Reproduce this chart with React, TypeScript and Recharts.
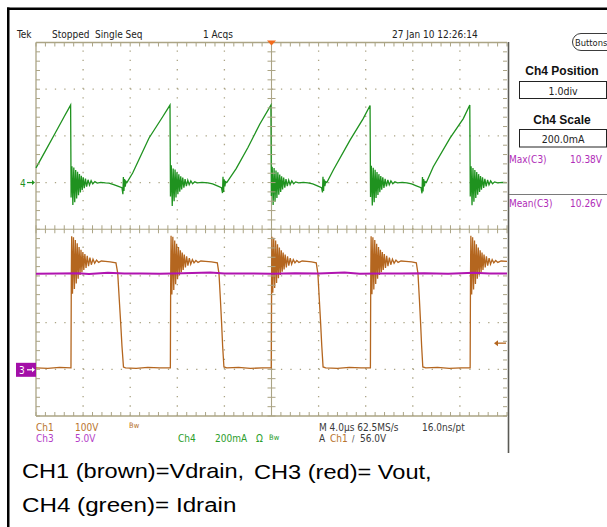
import React from 'react';
import { ComposedChart, Line, Scatter, XAxis, YAxis, ReferenceLine } from 'recharts';

type Pt = [number, number];

// time in µs (4 µs/div, 10 div); Ch4 current in mA, Ch1 / Ch3 in volts
const idrain: Pt[] = [
  [0, 63], [0.8, 136], [1.6, 209], [2.4, 283], [2.94, 332],
  [2.98, -64], [3.05, 70], [3.13, -96], [3.21, 64], [3.29, -84], [3.37, 54], [3.45, -68], [3.53, 46], [3.61, -54],
  [3.69, 37], [3.77, -42], [3.85, 29], [3.93, -32], [4.01, 23], [4.1, -24], [4.2, 17], [4.3, -17], [4.42, 12],
  [4.54, -11], [4.68, 8], [4.82, -6], [5.0, 4], [5.2, -2], [5.5, 1], [5.9, -1], [6.2, -2], [6.6, -9], [7.0, -16],
  [7.3, -22], [7.38, -50], [7.42, 24], [7.47, -36], [7.52, 15], [7.58, -18], [7.64, 5], [7.72, 0],
  [8.21, 41], [9.6, 191], [10.76, 282], [11.38, 332],
  [11.42, -60], [11.49, 74], [11.57, -100], [11.65, 60], [11.73, -80], [11.81, 56], [11.89, -64], [11.97, 44],
  [12.05, -50], [12.13, 35], [12.21, -39], [12.29, 27], [12.37, -30], [12.46, 21], [12.56, -22], [12.66, 15],
  [12.77, -15], [12.89, 10], [13.01, -9], [13.15, 7], [13.3, -5], [13.48, 3], [13.7, -1], [14.1, 1], [14.6, -1],
  [15.0, -6], [15.4, -14], [15.75, -22], [15.84, -45], [15.88, 25], [15.93, -40], [15.98, 14], [16.04, -16],
  [16.1, 4], [16.2, 0], [17.0, 60], [18.0, 150], [19.0, 250], [19.95, 332],
  [19.99, -58], [20.06, 68], [20.14, -96], [20.22, 62], [20.3, -82], [20.38, 52], [20.46, -66], [20.54, 44],
  [20.62, -52], [20.7, 34], [20.78, -40], [20.86, 27], [20.94, -30], [21.03, 21], [21.13, -22], [21.23, 15],
  [21.34, -15], [21.46, 10], [21.58, -9], [21.72, 7], [21.88, -5], [22.05, 3], [22.3, -1], [22.7, 1], [23.1, -1],
  [23.5, -6], [23.9, -14], [24.25, -22], [24.33, -42], [24.37, 25], [24.42, -36], [24.47, 14], [24.53, -15],
  [24.6, 4], [24.7, 0], [25.25, 54], [26.67, 182], [27.8, 275], [28.37, 330],
  [28.41, -62], [28.48, 72], [28.56, -98], [28.64, 63], [28.72, -84], [28.8, 55], [28.88, -66], [28.96, 45],
  [29.04, -53], [29.12, 36], [29.2, -41], [29.28, 28], [29.36, -31], [29.45, 22], [29.55, -23], [29.65, 16],
  [29.76, -16], [29.88, 11], [30.0, -10], [30.14, 7], [30.3, -5], [30.48, 3], [30.7, -1], [31.1, 1], [31.5, -1],
  [31.9, -6], [32.3, -14], [32.7, -22], [32.78, -46], [32.82, 24], [32.87, -38], [32.92, 15], [32.98, -16],
  [33.05, 4], [33.15, 0], [33.74, 68], [35.16, 190], [36.29, 274], [36.84, 332],
  [36.88, -60], [36.95, 70], [37.03, -97], [37.11, 62], [37.19, -82], [37.27, 54], [37.35, -66], [37.43, 45],
  [37.51, -52], [37.59, 36], [37.67, -40], [37.75, 28], [37.83, -31], [37.92, 22], [38.02, -23], [38.12, 16],
  [38.23, -16], [38.35, 11], [38.47, -10], [38.61, 7], [38.77, -5], [38.95, 3], [39.2, -1], [39.6, 1], [40, 0],
];

const vdrain: Pt[] = [
  [0, 3], [1.0, 2], [2.0, 4], [2.97, 3],
  [3.0, 200], [3.03, 285], [3.1, 162], [3.18, 283], [3.26, 172], [3.34, 277], [3.42, 184], [3.5, 270], [3.58, 194],
  [3.66, 262], [3.74, 202], [3.82, 256], [3.9, 208], [3.98, 251], [4.06, 213], [4.15, 247], [4.25, 217],
  [4.35, 243], [4.46, 221], [4.58, 239], [4.7, 224], [4.84, 236], [4.98, 227], [5.14, 234], [5.32, 229],
  [5.55, 232], [5.9, 231], [6.3, 230], [6.79, 228],
  [6.94, 206], [7.07, 150], [7.19, 100], [7.3, 50], [7.43, 5], [7.6, 3], [8.5, 2], [9.5, 4], [10.5, 3], [11.41, 3],
  [11.44, 200], [11.47, 286], [11.54, 160], [11.62, 284], [11.7, 170], [11.78, 276], [11.86, 182], [11.94, 269],
  [12.02, 193], [12.1, 262], [12.18, 201], [12.26, 255], [12.34, 208], [12.42, 250], [12.5, 213], [12.59, 246],
  [12.69, 218], [12.79, 242], [12.9, 222], [13.02, 238], [13.14, 225], [13.28, 235], [13.42, 228], [13.58, 233],
  [13.76, 229], [14.0, 232], [14.4, 231], [14.9, 230], [15.4, 228],
  [15.54, 205], [15.66, 150], [15.76, 100], [15.85, 50], [15.96, 5], [16.2, 3], [17.2, 4], [18.2, 2], [19.2, 3], [19.98, 3],
  [20.01, 200], [20.04, 284], [20.11, 164], [20.19, 282], [20.27, 174], [20.35, 276], [20.43, 185], [20.51, 268],
  [20.59, 195], [20.67, 261], [20.75, 202], [20.83, 255], [20.91, 209], [20.99, 250], [21.07, 214], [21.16, 246],
  [21.26, 218], [21.36, 242], [21.47, 222], [21.59, 238], [21.71, 225], [21.85, 235], [21.99, 228], [22.15, 233],
  [22.33, 229], [22.6, 232], [23.0, 231], [23.4, 230], [23.8, 228],
  [23.94, 205], [24.06, 150], [24.17, 100], [24.27, 50], [24.38, 5], [24.6, 3], [25.6, 2], [26.6, 4], [27.6, 3], [28.4, 3],
  [28.43, 200], [28.46, 285], [28.53, 161], [28.61, 283], [28.69, 171], [28.77, 277], [28.85, 183], [28.93, 269],
  [29.01, 194], [29.09, 262], [29.17, 202], [29.25, 256], [29.33, 208], [29.41, 251], [29.49, 213], [29.58, 247],
  [29.68, 217], [29.78, 243], [29.89, 221], [30.01, 239], [30.13, 224], [30.27, 236], [30.41, 227], [30.57, 234],
  [30.75, 229], [31.0, 232], [31.4, 231], [31.9, 230], [32.3, 228],
  [32.44, 205], [32.56, 150], [32.66, 100], [32.75, 50], [32.85, 5], [33.1, 3], [34.1, 4], [35.1, 2], [36.1, 3], [36.87, 3],
  [36.9, 200], [36.93, 286], [37.0, 160], [37.08, 283], [37.16, 171], [37.24, 276], [37.32, 183], [37.4, 268],
  [37.48, 194], [37.56, 261], [37.64, 202], [37.72, 255], [37.8, 208], [37.88, 250], [37.96, 213], [38.05, 246],
  [38.15, 218], [38.25, 242], [38.36, 222], [38.48, 238], [38.6, 225], [38.74, 235], [38.88, 228], [39.04, 233],
  [39.22, 229], [39.5, 232], [40, 231],
];

const vout: Pt[] = [
  [0, 10.24], [2, 10.26], [3.6, 10.3], [4.5, 10.22], [6.1, 10.35], [7.5, 10.25], [9, 10.27], [10.5, 10.24],
  [12.5, 10.28], [14.8, 10.38], [16, 10.25], [18, 10.27], [20, 10.23], [22, 10.3], [24, 10.26], [26.2, 10.36],
  [27.5, 10.24], [29, 10.27], [31, 10.25], [33, 10.3], [35, 10.24], [37.2, 10.34], [38.5, 10.26], [40, 10.27],
];

const majorT = [4, 8, 12, 16, 24, 28, 32, 36];
const majorDiv = [1, 2, 3, 5, 6, 7];
const minorT = Array.from({ length: 51 }, (_, i) => Math.round(i * 8) / 10);
const minorDiv = Array.from({ length: 41 }, (_, i) => Math.round(i * 2) / 10);

const GRAT = '#aba485';
const GREEN = '#1f921f';
const BROWN = '#b4661f';
const PURPLE = '#b014b0';
const scopeFont = "'DejaVu Sans Condensed', 'DejaVu Sans', sans-serif";
const toRows = (pts: Pt[]) => pts.map(([t, v]) => ({ t, v }));

// graticule tick marks: along the centre cross and along the frame
const tickSets = [
  { rows: minorT.map((t) => ({ t, d: 4 })), dx: [0, 0], dy: [-4, 4] },
  { rows: minorDiv.map((d) => ({ t: 20, d })), dx: [-4, 4], dy: [0, 0] },
  { rows: minorT.map((t) => ({ t, d: 8 })), dx: [0, 0], dy: [0, 4] },
  { rows: minorT.map((t) => ({ t, d: 0 })), dx: [0, 0], dy: [-4, 0] },
  { rows: minorDiv.map((d) => ({ t: 0, d })), dx: [0, 4], dy: [0, 0] },
  { rows: minorDiv.map((d) => ({ t: 40, d })), dx: [-4, 0], dy: [0, 0] },
];

const T = (p: any) => (
  <text fontFamily={scopeFont} fontStretch="condensed" fontSize={10} fill="#222" {...p} />
);

export default function App() {
  return (
    <div style={{ position: 'absolute', left: 0, top: 0, width: 607, height: 527, background: '#fff', overflow: 'hidden' }}>
      <div style={{ position: 'absolute', left: 0, top: 0 }}>
        <ComposedChart width={607} height={527} margin={{ top: 42.5, right: 100, bottom: 111, left: 36 }}>
          <XAxis xAxisId="b" type="number" dataKey="t" domain={[0, 40]} hide height={0} />
          <YAxis yAxisId="div" type="number" dataKey="d" domain={[0, 8]} hide width={0} />
          <YAxis yAxisId="ch4" type="number" dataKey="v" domain={[-1000, 600]} hide width={0} />
          <YAxis yAxisId="ch1" type="number" dataKey="v" domain={[-100, 700]} hide width={0} />
          <YAxis yAxisId="ch3" type="number" dataKey="v" domain={[-5, 35]} hide width={0} />

          {majorT.map((t) => (
            <ReferenceLine key={'x' + t} xAxisId="b" yAxisId="div" x={t} stroke={GRAT} strokeWidth={1.3} strokeDasharray="1.3 8.04" />
          ))}
          {majorDiv.map((d) => (
            <ReferenceLine key={'y' + d} xAxisId="b" yAxisId="div" y={d} stroke={GRAT} strokeWidth={1.3} strokeDasharray="1.3 8.12" />
          ))}
          <ReferenceLine xAxisId="b" yAxisId="div" x={20} stroke={GRAT} strokeWidth={1.1} />
          <ReferenceLine xAxisId="b" yAxisId="div" y={4} stroke={GRAT} strokeWidth={1.1} />
          <ReferenceLine xAxisId="b" yAxisId="div" x={0} stroke={GRAT} strokeWidth={1.3} />
          <ReferenceLine xAxisId="b" yAxisId="div" y={0} stroke={GRAT} strokeWidth={1.3} />
          <ReferenceLine xAxisId="b" yAxisId="div" y={8} stroke={GRAT} strokeWidth={1.3} />
          {tickSets.map((s, i) => (
            <Scatter key={'tk' + i} xAxisId="b" yAxisId="div" data={s.rows} isAnimationActive={false}
              shape={(p: any) => (
                <line x1={p.cx + s.dx[0]} x2={p.cx + s.dx[1]} y1={p.cy + s.dy[0]} y2={p.cy + s.dy[1]} stroke={GRAT} strokeWidth={1} />
              )} />
          ))}

          <Line xAxisId="b" yAxisId="ch1" data={toRows(vdrain)} dataKey="v" type="linear" stroke={BROWN}
            strokeWidth={1.3} dot={false} isAnimationActive={false} />
          <Line xAxisId="b" yAxisId="ch4" data={toRows(idrain)} dataKey="v" type="linear" stroke={GREEN}
            strokeWidth={1.3} dot={false} isAnimationActive={false} />
          <Line xAxisId="b" yAxisId="ch3" data={toRows(vout)} dataKey="v" type="linear" stroke={PURPLE}
            strokeWidth={2} dot={false} isAnimationActive={false} />

          {/* trigger position, ground markers and trigger level */}
          <Scatter xAxisId="b" yAxisId="div" data={[{ t: 20, d: 8 }]} isAnimationActive={false}
            shape={(p: any) => <polygon points={`${p.cx - 4.5},${p.cy - 2} ${p.cx + 4.5},${p.cy - 2} ${p.cx},${p.cy + 3}`} fill="#f26b1d" />} />
          <Scatter xAxisId="b" yAxisId="ch4" data={[{ t: 0, v: 0 }]} isAnimationActive={false}
            shape={(p: any) => (
              <g>
                <text x={p.cx - 16} y={p.cy + 4} fontFamily={scopeFont} fontSize={10} fill={GREEN}>4</text>
                <line x1={p.cx - 9} x2={p.cx - 2} y1={p.cy} y2={p.cy} stroke={GREEN} strokeWidth={1.2} />
                <polygon points={`${p.cx - 1},${p.cy} ${p.cx - 4},${p.cy - 2.5} ${p.cx - 4},${p.cy + 2.5}`} fill={GREEN} />
              </g>
            )} />
          <Scatter xAxisId="b" yAxisId="ch3" data={[{ t: 0, v: 0 }]} isAnimationActive={false}
            shape={(p: any) => (
              <g>
                <rect x={p.cx - 20} y={p.cy - 6.5} width={20} height={14} fill="#a30fa8" />
                <text x={p.cx - 17} y={p.cy + 4.5} fontFamily={scopeFont} fontSize={10} fill="#fff">3</text>
                <line x1={p.cx - 9} x2={p.cx - 2} y1={p.cy + 0.5} y2={p.cy + 0.5} stroke="#fff" strokeWidth={1.2} />
                <polygon points={`${p.cx - 1},${p.cy + 0.5} ${p.cx - 4},${p.cy - 2} ${p.cx - 4},${p.cy + 3}`} fill="#fff" />
              </g>
            )} />
          <Scatter xAxisId="b" yAxisId="ch1" data={[{ t: 40, v: 56 }]} isAnimationActive={false}
            shape={(p: any) => (
              <g>
                <line x1={p.cx - 11} x2={p.cx - 1} y1={p.cy} y2={p.cy} stroke={BROWN} strokeWidth={1.3} />
                <polygon points={`${p.cx - 13},${p.cy} ${p.cx - 9},${p.cy - 3} ${p.cx - 9},${p.cy + 3}`} fill={BROWN} />
              </g>
            )} />
        </ComposedChart>
      </div>

      <svg width={607} height={527} style={{ position: 'absolute', left: 0, top: 0, pointerEvents: 'none' }}>
        {/* page frame */}
        <rect x={7} y={7.5} width={2.5} height={520} fill="#000" />
        <rect x={7} y={7.5} width={600} height={2.5} fill="#000" />

        {/* status line */}
        <T x={17} y={38.3}>Tek</T>
        <T x={52} y={38.3}>Stopped</T>
        <T x={95} y={38.3}>Single Seq</T>
        <T x={203} y={38.3}>1 Acqs</T>
        <T x={392} y={38.3}>27 Jan 10 12:26:14</T>

        {/* side panel */}
        <line x1={508.5} x2={508.5} y1={42} y2={453} stroke="#5a5a55" strokeWidth={1.6} />
        <rect x={572.5} y={33.5} width={50} height={17} rx={8.5} fill="#fff" stroke="#3c3c3c" strokeWidth={1} />
        <T x={575} y={46.3} fontSize={9.3}>Buttons</T>
        <text x={562} y={74.5} textAnchor="middle" fontFamily="'Liberation Sans', Arial, sans-serif" fontWeight="bold" fontSize={12} fill="#111">Ch4 Position</text>
        <rect x={519.5} y={81.5} width={87} height={17} fill="#fff" stroke="#222" strokeWidth={1} />
        <T x={563} y={94.5} textAnchor="middle" fontSize={10.5}>1.0div</T>
        <text x={562} y={123.5} textAnchor="middle" fontFamily="'Liberation Sans', Arial, sans-serif" fontWeight="bold" fontSize={12} fill="#111">Ch4 Scale</text>
        <rect x={519.5} y={129.5} width={87} height={17.5} fill="#fff" stroke="#222" strokeWidth={1} />
        <T x={563} y={143} textAnchor="middle" fontSize={10.5}>200.0mA</T>
        <T x={509} y={163} fill="#b02cb8">Max(C3)</T>
        <T x={602} y={163} fill="#b02cb8" textAnchor="end">10.38V</T>
        <line x1={509} x2={607} y1={194.5} y2={194.5} stroke="#7a7a7a" strokeWidth={1} />
        <T x={509} y={207} fill="#b02cb8">Mean(C3)</T>
        <T x={602} y={207} fill="#b02cb8" textAnchor="end">10.26V</T>

        {/* channel readouts */}
        <T x={36} y={430.5} fill="#b8742e">Ch1</T>
        <T x={75} y={430.5} fill="#b8742e">100V</T>
        <T x={129} y={428} fill="#b8742e" fontSize={7.5}>Bw</T>
        <T x={36} y={442} fill="#b440c8">Ch3</T>
        <T x={75} y={442} fill="#b440c8">5.0V</T>
        <T x={178} y={442} fill="#2a9d2a">Ch4</T>
        <T x={215} y={442} fill="#2a9d2a">200mA</T>
        <T x={256} y={442} fill="#2a9d2a">Ω</T>
        <T x={269} y={440} fill="#2a9d2a" fontSize={7.5}>Bw</T>
        <T x={319} y={430.5} fill="#3a3a3a">M 4.0µs 62.5MS/s</T>
        <T x={422} y={430.5} fill="#3a3a3a">16.0ns/pt</T>
        <T x={319} y={442} fill="#3a3a3a">A</T>
        <T x={330} y={442} fill="#b8742e">Ch1</T>
        <T x={352} y={442} fill="#3a3a3a" fontSize={8}>/</T>
        <T x={360} y={442} fill="#3a3a3a">56.0V</T>

        {/* caption */}
        <text transform="translate(22 477.5) scale(1.18 1)" fontFamily="'Liberation Sans', Arial, sans-serif" fontSize={20} fill="#000">CH1 (brown)=Vdrain,</text>
        <text transform="translate(254 479) scale(1.18 1)" fontFamily="'Liberation Sans', Arial, sans-serif" fontSize={20} fill="#000">CH3 (red)= Vout,</text>
        <text transform="translate(22 512) scale(1.21 1)" fontFamily="'Liberation Sans', Arial, sans-serif" fontSize={20} fill="#000">CH4 (green)= Idrain</text>
      </svg>
    </div>
  );
}
